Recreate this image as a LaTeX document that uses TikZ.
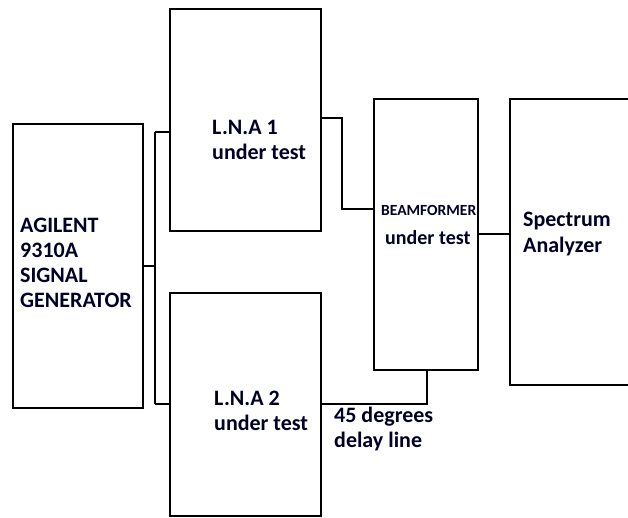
\documentclass[tikz,border=0pt]{standalone}
\usepackage{fontspec}
\setmainfont{Carlito}
\begin{document}
\begin{tikzpicture}[x=1pt,y=-1pt,
  blk/.style={draw=black,line width=2pt,rectangle,inner sep=0pt,outer sep=0pt},
  wire/.style={draw=black,line width=2pt,line join=miter},
  txt/.style={anchor=base west,inner sep=0pt,align=left,text=black!85!blue,font=\bfseries\fontsize{22}{25}\selectfont}]
\clip (0,0) rectangle (628,518);
\fill[white] (0,0) rectangle (628,518);
\node[blk,minimum width=130pt,minimum height=284pt] (gen) at (78,266) {};
\node[blk,minimum width=151pt,minimum height=222pt] (lna1) at (245.5,120) {};
\node[blk,minimum width=151pt,minimum height=223pt] (lna2) at (245.5,404.5) {};
\node[blk,minimum width=104pt,minimum height=271pt] (bf) at (426,234.5) {};
\node[blk,minimum width=130pt,minimum height=286pt] (sa) at (575,242) {};
% texts (base anchor = baseline of last line)
\node[txt] (gent) at (20,307) {AGILENT\\9310A\\SIGNAL\\GENERATOR};
\node[txt] (lna1t) at (212,160) {L.N.A 1\\under test};
\node[txt] (lna2t) at (214,430) {L.N.A 2\\under test};
\node[txt,font=\bfseries\fontsize{15.5}{18}\selectfont] (bft) at (381,216) {BEAMFORMER};
\node[txt,font=\bfseries\fontsize{20}{24}\selectfont] (bfu) at (385,245) {under test};
\node[txt,font=\bfseries\fontsize{22}{26}\selectfont] (sat) at (523,253) {Spectrum\\Analyzer};
\node[txt] (dl) at (334,447) {45 degrees\\delay line};
% wires
\coordinate (busT) at (155,132);
\coordinate (busB) at (155,404);
\coordinate (j1) at (342,118);
\coordinate (j2) at (342,209);
\coordinate (j3) at (427,404);
\coordinate (j4) at (0,234);
\draw[wire] (gen.east) -- (gen.east -| busT);
\draw[wire] (busT) -- (busB);
\draw[wire] (busT) -- (busT -| lna1.west);
\draw[wire] (busB) -- (busB -| lna2.west);
\draw[wire] (j1 -| lna1.east) -- (j1) -- (j2) -- (j2 -| bf.west);
\draw[wire] (j3 -| lna2.east) -- (j3) -- (j3 |- bf.south);
\draw[wire] (j4 -| bf.east) -- (j4 -| sa.west);
\end{tikzpicture}
\end{document}
